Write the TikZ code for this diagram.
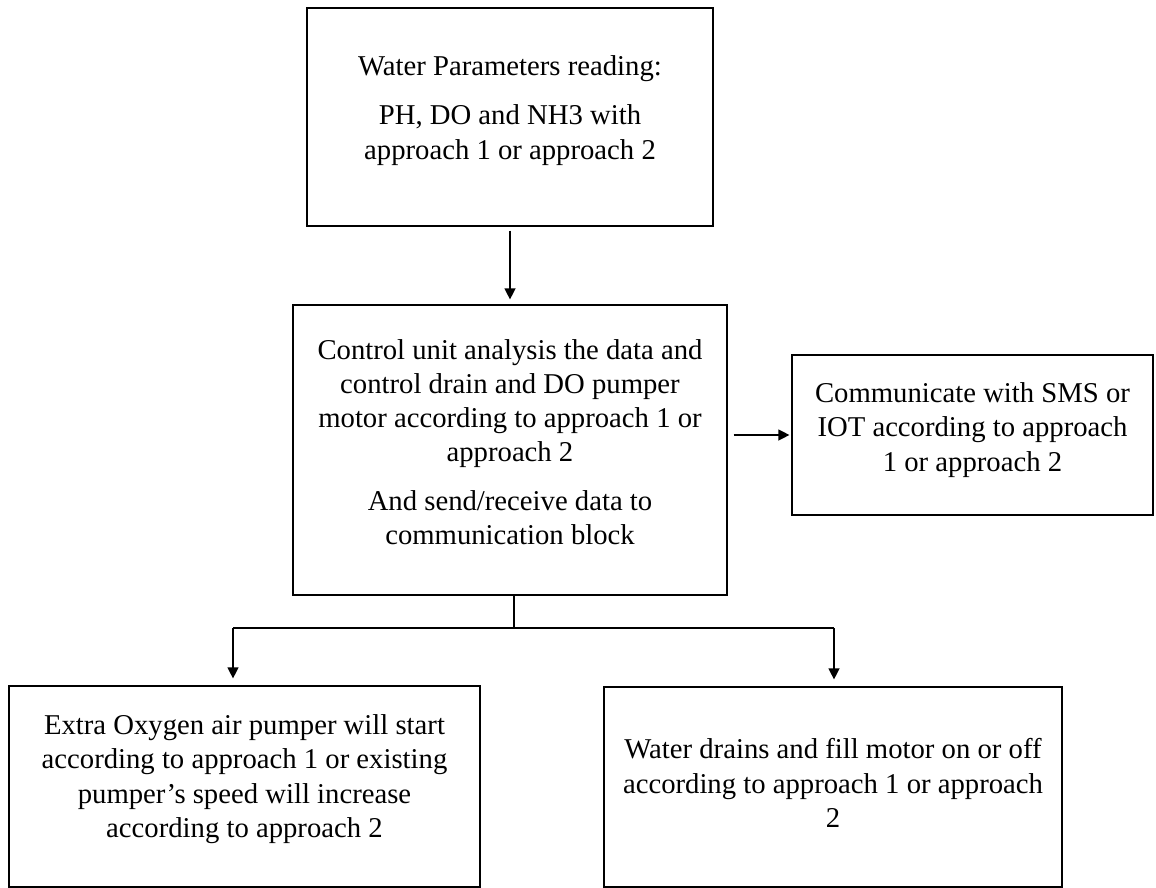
\documentclass[tikz,border=0pt]{standalone}
\usepackage{fontspec}
\setmainfont{Liberation Serif}
\usetikzlibrary{arrows.meta,calc}
\begin{document}
\begin{tikzpicture}[x=1pt,y=-1pt,
  block/.style={draw=black, line width=1.2pt, rectangle, inner sep=0pt},
  boxtext/.style={align=center, inner sep=0pt,
    font=\fontsize{28.7}{34.3}\selectfont},
  wire/.style={line width=1.3pt},
  flow/.style={wire, -{Triangle[length=11pt,width=11pt]}}]
\useasboundingbox (0,0) rectangle (1156,888);

% blocks
\node[block, minimum width=406pt, minimum height=218pt] (wp) at (510,117) {};
\node[block, minimum width=434pt, minimum height=290pt] (cu) at (510,450) {};
\node[block, minimum width=361pt, minimum height=160pt] (com) at (972.5,435) {};
\node[block, minimum width=471pt, minimum height=201pt] (air) at (244.5,786.5) {};
\node[block, minimum width=458pt, minimum height=200pt] (drain) at (833,787) {};

% block texts
\node[boxtext] (wp-t) at (510,110.5)
  {Water Parameters reading:\\[15pt]
   PH, DO and NH3 with\\
   approach 1 or approach 2};
\node[boxtext] (cu-t) at (510,442)
  {Control unit analysis the data and\\
   control drain and DO pumper\\
   motor according to approach 1 or\\
   approach 2\\[14pt]
   And send/receive data to\\
   communication block};
\node[boxtext] (com-t) at (972.5,430)
  {Communicate with SMS or\\
   IOT according to approach\\
   1 or approach 2};
\node[boxtext] (air-t) at (244.5,779)
  {Extra Oxygen air pumper will start\\
   according to approach 1 or existing\\
   pumper’s speed will increase\\
   according to approach 2};
\node[boxtext] (drain-t) at (833,783)
  {Water drains and fill motor on or off\\
   according to approach 1 or approach\\
   2};

% connectors
\draw[flow, shorten <=4pt, shorten >=5pt] (wp.south) -- (cu.north);
\draw[flow, shorten <=6pt, shorten >=2pt] (cu.east |- com.west) -- (com.west);

\coordinate (fork) at (514,628);
\coordinate (jl) at (233,628);
\coordinate (jr) at (834,628);
\draw[wire] (cu.south -| fork) -- (fork);
\draw[wire] (jl) -- (jr);
\draw[flow, shorten >=7pt] (jl) -- (jl |- air.north);
\draw[flow, shorten >=7pt] (jr) -- (jr |- drain.north);
\end{tikzpicture}
\end{document}
